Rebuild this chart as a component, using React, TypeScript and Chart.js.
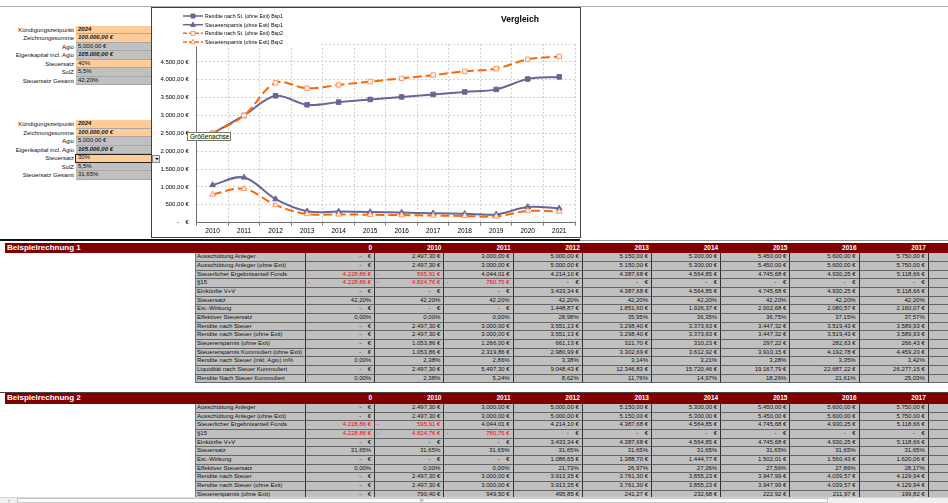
import React, { useEffect, useRef } from 'react';
import { Chart, registerables } from 'chart.js';

Chart.register(...registerables);

// ---------- chart data ----------
const years = ['2010', '2011', '2012', '2013', '2014', '2015', '2016', '2017', '2018', '2019', '2020', '2021'];
const renditeBsp1 = [2497.3, 3000.0, 3551.13, 3298.4, 3373.63, 3447.32, 3519.43, 3589.93, 3660, 3730, 4020, 4080];
const steuerBsp1 = [1053.86, 1266.0, 661.13, 321.7, 310.23, 297.22, 282.63, 266.43, 250, 232, 440, 400];
const renditeBsp2 = [2497.3, 3000.0, 3913.35, 3761.3, 3855.23, 3947.99, 4039.57, 4129.94, 4235, 4310, 4570, 4650];
const steuerBsp2 = [790.4, 949.5, 495.85, 241.27, 232.68, 222.92, 211.97, 199.82, 190, 175, 330, 310];
const seriesLabels = [
  'Rendite nach St. (ohne Exit) Bsp1',
  'Steuerersparnis (ohne Exit) Bsp1',
  'Rendite nach St. (ohne Exit) Bsp2',
  'Steuerersparnis (ohne Exit) Bsp2',
];
const chartTitle = 'Vergleich';
const yMin = 0;
const yMax = 5000;
const yStep = 500;
const tooltipText = 'Größenachse';

// ---------- parameter blocks ----------
const paramLabels = ['Kündigungszeitpunkt', 'Zeichnungssumme', 'Agio', 'Eigenkapital incl. Agio', 'Steuersatz', 'SolZ', 'Steuersatz Gesamt'];
const params1 = ['2024', '100.000,00 €', '5.000,00 €', '105.000,00 €', '40%', '5,5%', '42,20%'];
const params2 = ['2024', '100.000,00 €', '5.000,00 €', '105.000,00 €', '30%', '5,5%', '31,65%'];
const inputRows = [0, 1, 4];

// ---------- table data ----------
const tableColumns = ['0', '2010', '2011', '2012', '2013', '2014', '2015', '2016', '2017'];
const rowLabels = [
  'Ausschüttung Anleger',
  'Ausschüttung Anleger (ohne Exit)',
  'Steuerlicher Ergebnisanteil Fonds',
  '§15',
  'Einkünfte V+V',
  'Steuersatz',
  'Est.-Wirkung',
  'Effektiver Steuersatz',
  'Rendite nach Steuer',
  'Rendite nach Steuer (ohne Exit)',
  'Steuerersparnis (ohne Exit)',
  'Steuerersparnis Kummuliert (ohne Exit)',
  'Rendite nach Steuer (inkl. Agio) in%',
  'Liquidität nach Steuer Kummuliert',
  'Rendite Nach Steuer Kummuliert',
];
const ausschuettung = [0, 2497.3, 3000, 5000, 5150, 5300, 5450, 5600, 5750];
const ergebnisanteil = [-4228.86, -595.91, 4044.01, 4214.1, 4387.68, 4564.85, 4745.68, 4930.25, 5118.66];
const paragraph15 = [-4228.86, -4824.76, -780.75, 0, 0, 0, 0, 0, 0];
const einkuenfteVV = [0, 0, 0, 3433.34, 4387.68, 4564.85, 4745.68, 4930.25, 5118.66];
const steuersatz1 = [42.2, 42.2, 42.2, 42.2, 42.2, 42.2, 42.2, 42.2, 42.2];
const steuersatz2 = [31.65, 31.65, 31.65, 31.65, 31.65, 31.65, 31.65, 31.65, 31.65];
const estWirkung1 = [0, 0, 0, 1448.87, 1851.6, 1926.37, 2002.68, 2080.57, 2160.07];
const estWirkung2 = [0, 0, 0, 1086.65, 1388.7, 1444.77, 1502.01, 1560.43, 1620.06];
const effSteuer1 = [0, 0, 0, 28.98, 35.95, 36.35, 36.75, 37.15, 37.57];
const effSteuer2 = [0, 0, 0, 21.73, 26.97, 27.26, 27.56, 27.86, 28.17];
const steuerKumm1 = [0, 1053.86, 2319.86, 2980.99, 3302.69, 3612.92, 3910.15, 4192.78, 4459.2];
const renditeInkl1 = [0, 2.38, 2.86, 3.38, 3.14, 3.21, 3.28, 3.35, 3.42];
const liquiKumm1 = [0, 2497.3, 5497.3, 9048.43, 12346.83, 15720.46, 19167.79, 22687.22, 26277.15];
const renditeKumm1 = [0, 2.38, 5.24, 8.62, 11.76, 14.97, 18.26, 21.61, 25.03];

const FONT = '"Liberation Sans", Arial, sans-serif';

function fmtNum(v: number) {
  const s = Math.abs(v).toFixed(2);
  const [i, d] = s.split('.');
  return i.replace(/\B(?=(\d{3})+(?!\d))/g, '.') + ',' + d;
}

type Row = { label: string; values: number[]; kind: 'eur' | 'pct' };

function buildRows1(): Row[] {
  return [
    { label: rowLabels[0], values: ausschuettung, kind: 'eur' },
    { label: rowLabels[1], values: ausschuettung, kind: 'eur' },
    { label: rowLabels[2], values: ergebnisanteil, kind: 'eur' },
    { label: rowLabels[3], values: paragraph15, kind: 'eur' },
    { label: rowLabels[4], values: einkuenfteVV, kind: 'eur' },
    { label: rowLabels[5], values: steuersatz1, kind: 'pct' },
    { label: rowLabels[6], values: estWirkung1, kind: 'eur' },
    { label: rowLabels[7], values: effSteuer1, kind: 'pct' },
    { label: rowLabels[8], values: [0, ...renditeBsp1.slice(0, 8)], kind: 'eur' },
    { label: rowLabels[9], values: [0, ...renditeBsp1.slice(0, 8)], kind: 'eur' },
    { label: rowLabels[10], values: [0, ...steuerBsp1.slice(0, 8)], kind: 'eur' },
    { label: rowLabels[11], values: steuerKumm1, kind: 'eur' },
    { label: rowLabels[12], values: renditeInkl1, kind: 'pct' },
    { label: rowLabels[13], values: liquiKumm1, kind: 'eur' },
    { label: rowLabels[14], values: renditeKumm1, kind: 'pct' },
  ];
}

function buildRows2(): Row[] {
  return [
    { label: rowLabels[0], values: ausschuettung, kind: 'eur' },
    { label: rowLabels[1], values: ausschuettung, kind: 'eur' },
    { label: rowLabels[2], values: ergebnisanteil, kind: 'eur' },
    { label: rowLabels[3], values: paragraph15, kind: 'eur' },
    { label: rowLabels[4], values: einkuenfteVV, kind: 'eur' },
    { label: rowLabels[5], values: steuersatz2, kind: 'pct' },
    { label: rowLabels[6], values: estWirkung2, kind: 'eur' },
    { label: rowLabels[7], values: effSteuer2, kind: 'pct' },
    { label: rowLabels[8], values: [0, ...renditeBsp2.slice(0, 8)], kind: 'eur' },
    { label: rowLabels[9], values: [0, ...renditeBsp2.slice(0, 8)], kind: 'eur' },
    { label: rowLabels[10], values: [0, ...steuerBsp2.slice(0, 8)], kind: 'eur' },
  ];
}

// ---------- layout ----------
const TBL_LEFT = 195;
const LABEL_W = 111;
const COL_W = 69.2;
const ROW_H = 8.67;
const HEAD_H = 10.6;

function ValueContent({ v, kind }: { v: number; kind: 'eur' | 'pct' }) {
  if (kind === 'pct') {
    return <span style={{ position: 'absolute', right: 3 }}>{v.toFixed(2).replace('.', ',')}%</span>;
  }
  if (v === 0) {
    return (
      <>
        <span style={{ position: 'absolute', right: 13 }}>-</span>
        <span style={{ position: 'absolute', right: 3 }}>€</span>
      </>
    );
  }
  if (v < 0) {
    return (
      <>
        <span style={{ position: 'absolute', left: 2, color: '#FF0000' }}>-</span>
        <span style={{ position: 'absolute', right: 3, color: '#FF0000' }}>{fmtNum(v)} €</span>
      </>
    );
  }
  return <span style={{ position: 'absolute', right: 3 }}>{fmtNum(v)} €</span>;
}

function DataTable({ top, title, rows }: { top: number; title: string; rows: Row[] }) {
  const cells: React.ReactNode[] = [];
  rows.forEach((row, r) => {
    const y = top + HEAD_H + r * ROW_H;
    cells.push(
      <div
        key={`l${r}`}
        style={{
          position: 'absolute', left: TBL_LEFT, top: y, width: LABEL_W, height: ROW_H,
          background: '#C0C0C0', borderRight: '1px solid #333', borderBottom: '1px solid #666',
          borderLeft: '1px solid #777', boxSizing: 'border-box', fontSize: 6, lineHeight: `${ROW_H - 1}px`,
          paddingLeft: 1, whiteSpace: 'nowrap', overflow: 'hidden', color: '#111',
        }}
      >
        {row.label}
      </div>
    );
    for (let c = 0; c < 10; c++) {
      const v = row.values[c];
      cells.push(
        <div
          key={`c${r}_${c}`}
          style={{
            position: 'absolute', left: TBL_LEFT + LABEL_W + c * COL_W, top: y, width: COL_W, height: ROW_H,
            background: '#C0C0C0', borderRight: '1px solid #333', borderBottom: '1px solid #666',
            boxSizing: 'border-box', fontSize: 6, lineHeight: `${ROW_H - 1}px`, whiteSpace: 'pre', color: '#111',
          }}
        >
          {v !== undefined ? <ValueContent v={v} kind={row.kind} /> : null}
        </div>
      );
    }
  });
  return (
    <>
      <div
        style={{
          position: 'absolute', left: 5, top, width: 943, height: HEAD_H, background: '#800000',
          color: '#fff', fontWeight: 'bold', fontSize: 8, lineHeight: `${HEAD_H}px`, paddingLeft: 2,
          boxSizing: 'border-box', whiteSpace: 'nowrap',
        }}
      >
        {title}
      </div>
      {tableColumns.map((col, i) => (
        <div
          key={col}
          style={{
            position: 'absolute', left: TBL_LEFT + LABEL_W + i * COL_W, top, width: COL_W - 3, height: HEAD_H,
            color: '#fff', fontWeight: 'bold', fontSize: 6.5, lineHeight: `${HEAD_H}px`, textAlign: 'right',
          }}
        >
          {col}
        </div>
      ))}
      {cells}
    </>
  );
}

function ParamBlock({ top, values, selected }: { top: number; values: string[]; selected?: number }) {
  const rh = 8.5;
  return (
    <>
      {paramLabels.map((lab, i) => (
        <React.Fragment key={lab}>
          <div
            style={{
              position: 'absolute', left: 0, width: 74, top: top + i * rh, height: rh, textAlign: 'right',
              fontSize: 6, lineHeight: `${rh}px`, whiteSpace: 'nowrap', color: '#111',
            }}
          >
            {lab}
          </div>
          <div
            style={{
              position: 'absolute', left: 76, width: 76, top: top + i * rh, height: rh,
              background: inputRows.includes(i) ? '#FFCC99' : '#C0C0C0', borderBottom: '1px solid #a8a8a8',
              boxSizing: 'border-box', fontSize: 6, lineHeight: `${rh - 1}px`, paddingLeft: 2, color: '#111',
              fontStyle: i === 0 || i === 1 || i === 3 ? 'italic' : 'normal', fontWeight: i === 0 || i === 1 || i === 3 ? 'bold' : 'normal',
              whiteSpace: 'nowrap',
            }}
          >
            {values[i]}
          </div>
        </React.Fragment>
      ))}
      {selected !== undefined && (
        <div
          style={{
            position: 'absolute', left: 75, width: 78, top: top + selected * rh - 0.5, height: rh + 1,
            border: '1.5px solid #222', boxSizing: 'border-box',
          }}
        />
      )}
    </>
  );
}

function ComparisonChart() {
  const canvasRef = useRef<HTMLCanvasElement | null>(null);
  useEffect(() => {
    const canvas = canvasRef.current;
    if (!canvas) return;
    const legendPlugin = {
      id: 'excelLegend',
      afterDraw(chart: any) {
        const ctx = chart.ctx as CanvasRenderingContext2D;
        ctx.save();
        ctx.fillStyle = '#ffffff';
        ctx.fillRect(6, 0, 164, 38.5);
        ctx.fillStyle = '#000';
        ctx.font = `bold 8.5px ${FONT}`;
        ctx.textAlign = 'center';
        ctx.textBaseline = 'middle';
        ctx.fillText(chartTitle, 368, 11.5);
        const rowsY = [8, 16.7, 25.3, 34];
        chart.data.datasets.forEach((ds: any, i: number) => {
          const y = rowsY[i];
          ctx.strokeStyle = ds.borderColor;
          ctx.lineWidth = 1.5;
          ctx.setLineDash(ds.borderDash ? [4, 2] : []);
          ctx.beginPath();
          ctx.moveTo(31, y);
          ctx.lineTo(51, y);
          ctx.stroke();
          ctx.setLineDash([]);
          ctx.fillStyle = ds.pointBackgroundColor;
          ctx.strokeStyle = ds.pointBorderColor;
          ctx.lineWidth = 1;
          ctx.beginPath();
          if (ds.pointStyle === 'rect') {
            ctx.rect(39, y - 2, 4, 4);
          } else {
            ctx.moveTo(41, y - 2.6);
            ctx.lineTo(43.3, y + 1.8);
            ctx.lineTo(38.7, y + 1.8);
            ctx.closePath();
          }
          ctx.fill();
          ctx.stroke();
          ctx.fillStyle = '#000';
          ctx.font = `6px ${FONT}`;
          ctx.textAlign = 'left';
          ctx.fillText(ds.label, 53, y + 0.3, 78);
        });
        ctx.restore();
      },
    };
    const blue = '#666699';
    const orange = '#FF6600';
    const chart = new Chart(canvas, {
      type: 'line',
      data: {
        labels: years,
        datasets: [
          {
            label: seriesLabels[0], data: renditeBsp1, borderColor: blue, backgroundColor: blue,
            borderWidth: 2, tension: 0.35, pointStyle: 'rect', pointRadius: 3.2,
            pointBackgroundColor: blue, pointBorderColor: blue, pointBorderWidth: 1, order: 2,
          },
          {
            label: seriesLabels[1], data: steuerBsp1, borderColor: blue, backgroundColor: blue,
            borderWidth: 2, tension: 0.35, pointStyle: 'triangle', pointRadius: 3.3,
            pointBackgroundColor: blue, pointBorderColor: blue, pointBorderWidth: 1, order: 2,
          },
          {
            label: seriesLabels[2], data: renditeBsp2, borderColor: orange, backgroundColor: orange,
            borderWidth: 2, borderDash: [9, 4], tension: 0.35, pointStyle: 'rect', pointRadius: 3.2,
            pointBackgroundColor: '#FFF3EA', pointBorderColor: '#FF9966', pointBorderWidth: 1, order: 1,
          },
          {
            label: seriesLabels[3], data: steuerBsp2, borderColor: orange, backgroundColor: orange,
            borderWidth: 2, borderDash: [9, 4], tension: 0.35, pointStyle: 'triangle', pointRadius: 3.3,
            pointBackgroundColor: '#FFF3EA', pointBorderColor: '#FF9966', pointBorderWidth: 1, order: 1,
          },
        ],
      },
      options: {
        responsive: false,
        animation: false,
        devicePixelRatio: 1,
        events: [],
        layout: { padding: { left: 0, right: 1.6, top: 36, bottom: 0 } },
        plugins: { legend: { display: false }, title: { display: false }, tooltip: { enabled: false } },
        scales: {
          x: {
            offset: true,
            grid: {
              offset: true, color: '#d2d2d2', lineWidth: 1, tickLength: 3, tickColor: '#808080',
              tickBorderDash: [], drawOnChartArea: true,
            },
            border: { color: '#707070', width: 1, dash: [2, 2] },
            ticks: { font: { size: 6.5, family: FONT }, color: '#000', padding: 2, maxRotation: 0, autoSkip: false },
            afterFit: (s: any) => { s.height = 14.3; },
          },
          y: {
            min: yMin,
            max: yMax,
            ticks: {
              stepSize: yStep,
              font: { size: 6, family: FONT },
              color: '#000',
              padding: 8,
              callback: (v: any) => (v === yMax ? '' : v === 0 ? '-    €' : fmtNum(Number(v)) + ' €'),
            },
            grid: { color: '#d2d2d2', drawTicks: false },
            border: { color: '#707070', width: 1, dash: [2, 2] },
            afterFit: (s: any) => { s.width = 44.8; },
          },
        },
      } as any,
      plugins: [legendPlugin],
    });
    return () => chart.destroy();
  }, []);
  return (
    <canvas
      ref={canvasRef}
      width={428}
      height={229}
      style={{ position: 'absolute', left: 152, top: 8, width: 428, height: 229 }}
    />
  );
}

export default function App() {
  return (
    <div
      style={{
        position: 'fixed', left: 0, top: 0, width: 948, height: 503, overflow: 'hidden',
        background: '#fff', fontFamily: FONT,
      }}
    >
      {/* top row line */}
      <div style={{ position: 'absolute', left: 0, top: 6, width: 948, height: 1, background: '#b0b0b0' }} />

      <ParamBlock top={25.7} values={params1} />
      <ParamBlock top={120} values={params2} selected={4} />

      {/* chart frame */}
      <div style={{ position: 'absolute', left: 151, top: 7, width: 430, height: 231, background: '#fff', border: '1px solid #404040', boxSizing: 'border-box' }} />
      <ComparisonChart />

      {/* dropdown button */}
      <div style={{ position: 'absolute', left: 152, top: 154.5, width: 8, height: 8, background: '#E6E6E6', border: '1px solid #8a8a8a', boxSizing: 'border-box' }}>
        <div style={{ position: 'absolute', left: 1.5, top: 2.5, width: 0, height: 0, borderLeft: '2px solid transparent', borderRight: '2px solid transparent', borderTop: '2.5px solid #000' }} />
      </div>

      {/* tooltip */}
      <div
        style={{
          position: 'absolute', left: 187, top: 132, width: 44, height: 9, background: '#FFFFE1',
          border: '1px solid #767676', boxSizing: 'border-box', fontSize: 6.5, lineHeight: '7px', paddingLeft: 2,
          whiteSpace: 'nowrap', color: '#000',
        }}
      >
        {tooltipText}
      </div>

      {/* row separator under chart */}
      <div style={{ position: 'absolute', left: 0, top: 238.5, width: 580, height: 2, background: '#111' }} />
      <div style={{ position: 'absolute', left: 580, top: 240, width: 368, height: 1, background: '#999' }} />

      <DataTable top={242.7} title="Beispielrechnung 1" rows={buildRows1()} />

      <div style={{ position: 'absolute', left: 0, top: 391.5, width: 948, height: 1, background: '#444' }} />
      <DataTable top={393.3} title="Beispielrechnung 2" rows={buildRows2()} />

      {/* horizontal scrollbar */}
      <div style={{ position: 'absolute', left: 0, top: 497, width: 948, height: 6, background: '#f0f0f0', borderTop: '1px solid #d4d4d4', boxSizing: 'border-box' }}>
        <div style={{ position: 'absolute', left: 8, top: -1, fontSize: 5, lineHeight: '6px', color: '#555' }}>‹</div>
        <div style={{ position: 'absolute', left: 17, top: 0, width: 811, height: 5, background: '#fafafa', border: '1px solid #c8c8c8', boxSizing: 'border-box' }}>
          <div style={{ position: 'absolute', left: 402, top: -1, fontSize: 4, lineHeight: '5px', color: '#666' }}>III</div>
        </div>
      </div>
    </div>
  );
}
